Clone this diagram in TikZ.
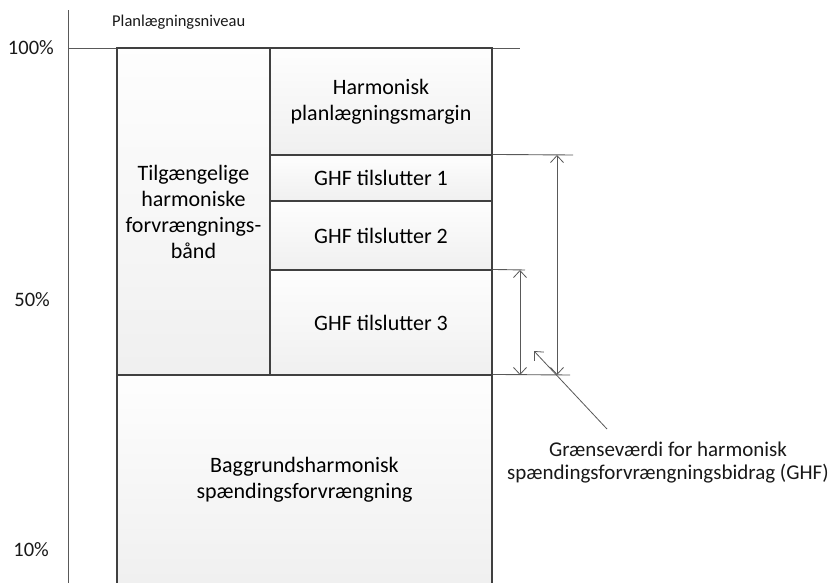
\documentclass[tikz,border=0pt]{standalone}
\usepackage{fontspec}
\setmainfont{Carlito}
\usetikzlibrary{arrows.meta}
\begin{document}
\begin{tikzpicture}[x=1pt,y=-1pt,
  box/.style={draw=black!75, line width=1.1pt, top color=gray!1, bottom color=gray!12,
    inner sep=0pt, align=center, font=\fontsize{22}{26}\selectfont, text=black},
  guide/.style={draw=black!65, line width=0.9pt},
  barb/.tip={Straight Barb[length=7pt,width=13pt,line width=0.8pt]},
  dimline/.style={draw=black!65, line width=0.8pt, barb-barb},
  lab/.style={font=\fontsize{16.5}{20}\selectfont, inner sep=0pt, text=black!90},
  pct/.style={font=\fontsize{20.5}{24}\selectfont, inner sep=0pt, text=black!90}]
\useasboundingbox (0,0) rectangle (839,582);
\clip (0,0) rectangle (839,582);
\fill[white] (0,0) rectangle (839,582);

% axis and top level line
\coordinate (axtop) at (68,10);
\coordinate (axbot) at (68,590);
\coordinate (topl) at (68,48);
\coordinate (topr) at (520,48);
\draw[guide] (axtop) -- (axbot);
\draw[guide] (topl) -- (topr);

\node[lab, anchor=west] (plan) at (112,22) {Planlægningsniveau};
\node[pct, anchor=east] (p100) at (54,48) {100\%};
\node[pct, anchor=east] (p50) at (50,300) {50\%};
\node[pct, anchor=east] (p10) at (49,550) {10\%};

% boxes
\node[box, minimum width=153pt, minimum height=327pt] (avail) at (193.5,211.5)
  {Tilgængelige\\harmoniske\\forvrængnings-\\bånd};
\node[box, minimum width=222pt, minimum height=107pt] (margin) at (381,101.5)
  {Harmonisk\\planlægningsmargin};
\node[box, minimum width=222pt, minimum height=46pt] (g1) at (381,178) {GHF tilslutter 1};
\node[box, minimum width=222pt, minimum height=69pt] (g2) at (381,235.5) {GHF tilslutter 2};
\node[box, minimum width=222pt, minimum height=105pt] (g3) at (381,322.5) {GHF tilslutter 3};
\node[box, minimum width=375pt, minimum height=210pt] (bg) at (304.5,480)
  {Baggrundsharmonisk\\spændingsforvrængning};

% extension lines
\coordinate (e1) at (573,155);
\coordinate (e3) at (525,270);
\coordinate (eb) at (570,375);
\draw[guide] (g1.north east) -- (e1);
\draw[guide] (g3.north east) -- (e3);
\draw[guide] (bg.north east) -- (eb);

% dimension arrows
\coordinate (d1t) at (520,270);
\coordinate (d1b) at (520,375);
\coordinate (d2t) at (557,155);
\coordinate (d2b) at (557,375);
\draw[dimline] (d1t) -- (d1b);
\draw[dimline] (d2t) -- (d2b);

% annotation
\node[align=center, inner sep=0pt, font=\fontsize{21}{23}\selectfont, text=black!90] (note) at (668,463)
  {Grænseværdi for harmonisk\\spændingsforvrængningsbidrag (GHF)};
\coordinate (ps) at (607,429);
\coordinate (pe) at (534,351);
\draw[draw=black!65, line width=0.8pt, -barb] (ps) -- (pe);
\end{tikzpicture}
\end{document}
